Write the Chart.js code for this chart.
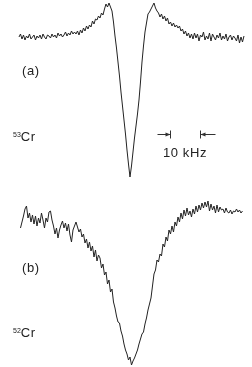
<!DOCTYPE html>
<html>
<head>
<meta charset="utf-8">
<script src="https://cdn.jsdelivr.net/npm/chart.js@4/dist/chart.umd.min.js"></script>
<style>
  html, body { margin: 0; padding: 0; background: #fff; }
  #wrap { position: relative; width: 252px; height: 367px; overflow: hidden;
          font-family: "Liberation Sans", Arial, sans-serif; color: #222; }
  canvas { position: absolute; left: 0; }
  #chartA { top: 0; }
  #chartB { top: 190px; }
  .lbl { position: absolute; font-size: 13px; line-height: 13px; letter-spacing: 0.6px; white-space: nowrap; }
  .lbl .iso { display: inline-block; font-size: 7px; line-height: 7px; vertical-align: top; letter-spacing: 0; margin-top: 1px; }
</style>
</head>
<body>
<div id="wrap">
  <canvas id="chartA" width="252" height="190"></canvas>
  <canvas id="chartB" width="252" height="177"></canvas>
  <div class="lbl" style="left:22px;top:64px">(a)</div>
  <div class="lbl" style="left:13px;top:130px"><span class="iso">53</span>Cr</div>
  <div class="lbl" style="left:163px;top:146px">10 kHz</div>
  <div class="lbl" style="left:22px;top:261px">(b)</div>
  <div class="lbl" style="left:13px;top:326px"><span class="iso">52</span>Cr</div>
</div>
<script>
"use strict";
// frequency offset from line centre, kHz; spectra sampled every 0.5 kHz
const stepKHz = 0.5;
const freqStartA = -37;
const freqStartB = -36.5;

// 53Cr signal (arb. units)
const signalA = [
  0, 3, -2, 2, -3, 1, -1, 3, -2, 0, 2, -3, 1, -1, 2, -2, 3, 0, -2, 2,
  1, -1, 3, 0, 2, -1, 4, 1, 3, 0, 2, 5, 1, 4, 2, 6, 3, 5,
  3, 6, 2, 7, 4, 9, 6, 11, 8, 12, 10, 16, 13,
  18, 17, 21, 19, 24, 22, 28, 33, 30, 34,
  30, 26,
  15, 1, -11, -25, -39, -55, -69, -83, -97, -113, -127, -140,
  -129, -115, -101, -89, -77, -63, -45, -25, -9, 5, 14, 23, 25, 28,
  31, 34, 29, 26, 24, 20, 23, 18, 21, 16, 19, 13, 15, 11, 14, 10,
  12, 9, 11, 6, 8, 3, 6, 1, 4, -1, 3,
  -2, 4, -1, 3, -4, 2, 0, 5, -3, 1, -2, 4, -4, 3, 0, -3, 2, -1, 4, -3,
  1, -2, 3, -4, 0, 2, -3, 1, -1, -4, 2, -6, 0, -5, 1
];

// 52Cr signal (arb. units)
const signalB = [
  -18, -12, -6, 1, 4, -8, -3, -12, -5, -14, -6, -16, -8, -13, -3, -10, -18, -8, -12, -2,
  -1, -10, -16, -24, -18, -28, -20, -15, -11, -18, -13, -21, -14, -25, -32, -20, -16, -12, -17, -22,
  -19, -27, -24, -33, -29, -38, -32, -41, -36, -47, -40, -51, -45, -48, -58, -54, -65, -62, -74, -70,
  -82, -79, -92, -98, -106, -112, -113, -121, -126, -134, -140, -144, -150, -147, -155, -151, -148, -144, -140, -134,
  -129, -124, -122, -114, -108, -100, -94, -88, -76, -64, -60, -50, -52, -44, -46, -34, -37, -27, -31, -20,
  -24, -16, -22, -12, -16, -7, -12, -3, -9, 0, -6, 2, -5, -1, -7, 1, -4, 4, -2, 5,
  0, 7, 2, 8, 3, 9, -1, 6, 0, 4, -3, 5, -2, 3, 0, 1, -3, 2, -2, -3,
  0, -4, -1, -2, 1, -2, 0, -3, -1
];

// 10 kHz scale bar
const scaleBarKHz = [13.5, 23.5];
const scaleBarLevel = -97;

const scaleBarPlugin = {
  id: "scaleBar",
  afterDatasetsDraw(chart, args, opts) {
    if (!opts.show) return;
    const { ctx, scales: { x, y } } = chart;
    const yp = Math.round(y.getPixelForValue(opts.level)) + 0.5;
    const x1 = Math.round(x.getPixelForValue(opts.from)) + 0.5;
    const x2 = Math.round(x.getPixelForValue(opts.to)) + 0.5;
    ctx.save();
    ctx.strokeStyle = "#333";
    ctx.fillStyle = "#333";
    ctx.lineWidth = 1;
    ctx.beginPath();
    ctx.moveTo(x1, yp - 4); ctx.lineTo(x1, yp + 4);
    ctx.moveTo(x2, yp - 4); ctx.lineTo(x2, yp + 4);
    ctx.moveTo(x1 - 13, yp); ctx.lineTo(x1, yp);
    ctx.moveTo(x2 + 15, yp); ctx.lineTo(x2, yp);
    ctx.stroke();
    ctx.beginPath();
    ctx.moveTo(x1, yp); ctx.lineTo(x1 - 5, yp - 2); ctx.lineTo(x1 - 5, yp + 2); ctx.closePath();
    ctx.moveTo(x2, yp); ctx.lineTo(x2 + 5, yp - 2); ctx.lineTo(x2 + 5, yp + 2); ctx.closePath();
    ctx.fill();
    ctx.restore();
  }
};

const makeChart = (id, freqStart, signal, yMin, yMax, bar) => {
  const points = signal.map((v, i) => ({ x: freqStart + i * stepKHz, y: v }));
  return new Chart(document.getElementById(id), {
    type: "line",
    data: {
      datasets: [{
        data: points,
        borderColor: "#222",
        borderWidth: 1,
        pointRadius: 0,
        tension: 0,
        fill: false,
      }],
    },
    options: {
      responsive: false,
      animation: false,
      events: [],
      layout: { padding: 0 },
      plugins: {
        legend: { display: false },
        tooltip: { enabled: false },
        scaleBar: bar,
      },
      scales: {
        x: { type: "linear", display: false, min: -43.33, max: 40.67 },
        y: { type: "linear", display: false, min: yMin, max: yMax },
      },
    },
    plugins: [scaleBarPlugin],
  });
};

makeChart("chartA", freqStartA, signalA, -153, 37,
  { show: true, from: scaleBarKHz[0], to: scaleBarKHz[1], level: scaleBarLevel });
makeChart("chartB", freqStartB, signalB, -157, 20, { show: false });
</script>
</body>
</html>
